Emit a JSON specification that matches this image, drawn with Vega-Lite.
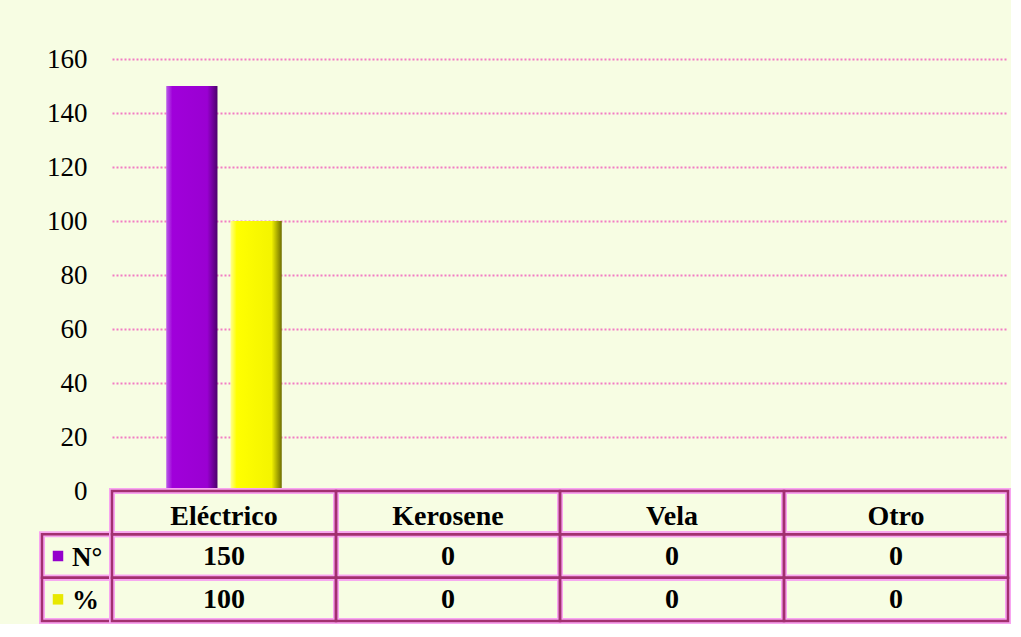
{
  "$schema": "https://vega.github.io/schema/vega-lite/v6.json",
  "background": "#F7FDE3",
  "padding": {"left": 39, "top": 45, "right": 0, "bottom": 0},
  "config": {
    "font": "Liberation Serif",
    "view": {"stroke": null}
  },
  "datasets": {
    "barras": [
      {"categoria": "Eléctrico", "serie": "N°", "valor": 150},
      {"categoria": "Eléctrico", "serie": "%", "valor": 100},
      {"categoria": "Kerosene", "serie": "N°", "valor": 0},
      {"categoria": "Kerosene", "serie": "%", "valor": 0},
      {"categoria": "Vela", "serie": "N°", "valor": 0},
      {"categoria": "Vela", "serie": "%", "valor": 0},
      {"categoria": "Otro", "serie": "N°", "valor": 0},
      {"categoria": "Otro", "serie": "%", "valor": 0}
    ],
    "categorias": [
      {"categoria": "Eléctrico"},
      {"categoria": "Kerosene"},
      {"categoria": "Vela"},
      {"categoria": "Otro"}
    ],
    "series": [
      {"serie": "N°"},
      {"serie": "%"}
    ]
  },
  "columns": 2,
  "align": "each",
  "bounds": "flush",
  "spacing": 0,
  "concat": [
    {
      "width": 70,
      "height": 432,
      "data": {"values": []},
      "mark": "point",
      "encoding": {}
    },
    {
      "width": 896,
      "height": 432,
      "data": {"name": "barras"},
      "encoding": {
        "x": {
          "field": "categoria", "type": "nominal",
          "scale": {"domain": ["Eléctrico", "Kerosene", "Vela", "Otro"], "paddingInner": 0, "paddingOuter": 0},
          "axis": null
        },
        "xOffset": {
          "field": "serie", "type": "nominal",
          "scale": {"domain": ["N°", "%"], "paddingInner": 0.203, "paddingOuter": 0.844}
        },
        "y": {
          "field": "valor", "type": "quantitative",
          "scale": {"domain": [0, 160], "nice": false},
          "axis": {
            "values": [0, 20, 40, 60, 80, 100, 120, 140, 160],
            "title": null,
            "domain": false,
            "ticks": false,
            "labelPadding": 25,
            "labelFont": "Liberation Serif",
            "labelFontSize": 27,
            "labelColor": "#000000",
            "grid": true,
            "gridColor": "#F27CC4",
            "gridDash": [2, 2],
            "gridWidth": 2
          }
        }
      },
      "layer": [
        {
          "transform": [{"filter": "datum.serie === 'N°'"}],
          "mark": {
            "type": "bar",
            "color": {
              "gradient": "linear", "x1": 0, "y1": 0, "x2": 1, "y2": 0,
              "stops": [
                {"offset": 0, "color": "#B85CE8"},
                {"offset": 0.12, "color": "#A000DA"},
                {"offset": 0.8, "color": "#9A00D2"},
                {"offset": 1, "color": "#4C006C"}
              ]
            }
          }
        },
        {
          "transform": [{"filter": "datum.serie === '%'"}],
          "mark": {
            "type": "bar",
            "color": {
              "gradient": "linear", "x1": 0, "y1": 0, "x2": 1, "y2": 0,
              "stops": [
                {"offset": 0, "color": "#FFFF90"},
                {"offset": 0.12, "color": "#FFFF00"},
                {"offset": 0.8, "color": "#F4F400"},
                {"offset": 1, "color": "#6E6E00"}
              ]
            }
          }
        }
      ]
    },
    {
      "width": 70,
      "height": 130,
      "data": {"name": "series"},
      "encoding": {
        "y": {
          "field": "serie", "type": "nominal",
          "scale": {"domain": ["cab", "N°", "%"], "paddingInner": 0, "paddingOuter": 0},
          "axis": null
        },
        "x": {
          "datum": "etiqueta", "type": "nominal",
          "scale": {"paddingInner": 0, "paddingOuter": 0},
          "axis": null
        }
      },
      "layer": [
        {"mark": {"type": "rect", "filled": false, "color": "#F8A4F0", "strokeWidth": 6}},
        {"mark": {"type": "rect", "filled": false, "color": "#A2306F", "strokeWidth": 2.5}},
        {
          "mark": {"type": "point", "shape": "square", "filled": true, "size": 110, "xOffset": -19, "opacity": 1},
          "encoding": {
            "color": {
              "field": "serie", "type": "nominal",
              "scale": {"domain": ["N°", "%"], "range": ["#9400CC", "#E8E800"]},
              "legend": null
            }
          }
        },
        {
          "mark": {"type": "text", "align": "left", "dx": -5, "dy": 2, "fontWeight": "bold", "fontSize": 27, "color": "#000000"},
          "encoding": {"text": {"field": "serie"}}
        }
      ]
    },
    {
      "width": 896,
      "height": 130,
      "layer": [
        {
          "data": {"name": "categorias"},
          "mark": {"type": "rect", "filled": false, "color": "#F8A4F0", "strokeWidth": 6},
          "encoding": {
            "x": {
              "field": "categoria", "type": "nominal",
              "scale": {"domain": ["Eléctrico", "Kerosene", "Vela", "Otro"], "paddingInner": 0, "paddingOuter": 0},
              "axis": null
            },
            "y": {
              "datum": "cab", "type": "nominal",
              "scale": {"domain": ["cab", "N°", "%"], "paddingInner": 0, "paddingOuter": 0},
              "axis": null
            }
          }
        },
        {
          "data": {"name": "barras"},
          "mark": {"type": "rect", "filled": false, "color": "#F8A4F0", "strokeWidth": 6},
          "encoding": {
            "x": {"field": "categoria", "type": "nominal"},
            "y": {"field": "serie", "type": "nominal"}
          }
        },
        {
          "data": {"name": "categorias"},
          "mark": {"type": "rect", "filled": false, "color": "#A2306F", "strokeWidth": 2.5},
          "encoding": {
            "x": {"field": "categoria", "type": "nominal"},
            "y": {"datum": "cab", "type": "nominal"}
          }
        },
        {
          "data": {"name": "barras"},
          "mark": {"type": "rect", "filled": false, "color": "#A2306F", "strokeWidth": 2.5},
          "encoding": {
            "x": {"field": "categoria", "type": "nominal"},
            "y": {"field": "serie", "type": "nominal"}
          }
        },
        {
          "data": {"name": "categorias"},
          "mark": {"type": "text", "dy": 4, "fontWeight": "bold", "fontSize": 28, "color": "#000000"},
          "encoding": {
            "x": {"field": "categoria", "type": "nominal"},
            "y": {"datum": "cab", "type": "nominal"},
            "text": {"field": "categoria"}
          }
        },
        {
          "data": {"name": "barras"},
          "mark": {"type": "text", "dy": 1, "fontWeight": "bold", "fontSize": 28, "color": "#000000"},
          "encoding": {
            "x": {"field": "categoria", "type": "nominal"},
            "y": {"field": "serie", "type": "nominal"},
            "text": {"field": "valor", "type": "quantitative"}
          }
        }
      ]
    }
  ]
}
